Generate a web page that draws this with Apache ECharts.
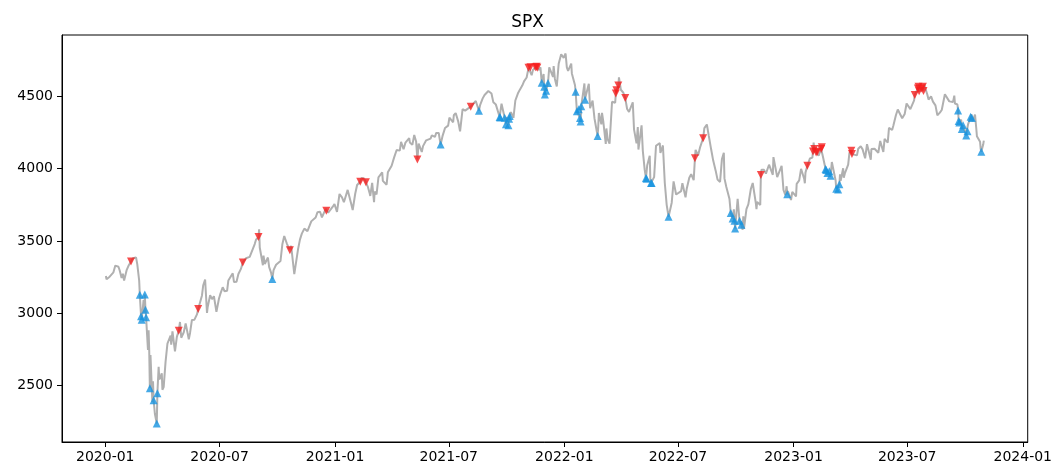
<!DOCTYPE html>
<html>
<head>
<meta charset="utf-8">
<script src="https://cdn.jsdelivr.net/npm/echarts@6/dist/echarts.min.js"></script>
<style>
html,body{margin:0;padding:0;background:#fff;}
#chart{width:1055px;height:467px;}
</style>
</head>
<body>
<div id="chart"></div>
<script>
// ---- data ----
const title = "SPX";
const priceDates = [
"2020-01-02","2020-01-03","2020-01-08","2020-01-10","2020-01-14","2020-01-17","2020-01-22","2020-01-24","2020-01-27","2020-01-29","2020-01-31",
"2020-02-04","2020-02-07","2020-02-11","2020-02-14","2020-02-19","2020-02-21","2020-02-24","2020-02-25","2020-02-26","2020-02-27","2020-02-28",
"2020-03-02","2020-03-03","2020-03-04","2020-03-05","2020-03-06","2020-03-09","2020-03-10","2020-03-11","2020-03-12","2020-03-13","2020-03-16","2020-03-17","2020-03-18","2020-03-19","2020-03-20","2020-03-23","2020-03-24","2020-03-26","2020-03-27","2020-03-31",
"2020-04-01","2020-04-03","2020-04-06","2020-04-09","2020-04-14","2020-04-15","2020-04-17","2020-04-21","2020-04-24","2020-04-27","2020-04-29",
"2020-05-01","2020-05-05","2020-05-08","2020-05-13","2020-05-15","2020-05-18","2020-05-22","2020-05-26","2020-05-28","2020-05-29",
"2020-06-03","2020-06-05","2020-06-08","2020-06-11","2020-06-12","2020-06-16","2020-06-19","2020-06-22","2020-06-26","2020-06-30",
"2020-07-02","2020-07-06","2020-07-09","2020-07-13","2020-07-15","2020-07-17","2020-07-22","2020-07-24","2020-07-28","2020-07-31",
"2020-08-04","2020-08-07","2020-08-12","2020-08-14","2020-08-18","2020-08-21","2020-08-26","2020-08-28",
"2020-09-01","2020-09-02","2020-09-03","2020-09-08","2020-09-09","2020-09-11","2020-09-16","2020-09-18","2020-09-21","2020-09-23","2020-09-25","2020-09-29",
"2020-10-02","2020-10-06","2020-10-09","2020-10-12","2020-10-16","2020-10-20","2020-10-21","2020-10-23","2020-10-28","2020-10-30",
"2020-11-03","2020-11-06","2020-11-09","2020-11-12","2020-11-13","2020-11-18","2020-11-20","2020-11-24","2020-11-27",
"2020-12-01","2020-12-04","2020-12-08","2020-12-11","2020-12-17","2020-12-18","2020-12-21","2020-12-24","2020-12-28","2020-12-31",
"2021-01-04","2021-01-08","2021-01-12","2021-01-15","2021-01-21","2021-01-22","2021-01-27","2021-01-29",
"2021-02-02","2021-02-05","2021-02-10","2021-02-12","2021-02-16","2021-02-19","2021-02-22","2021-02-25","2021-02-26",
"2021-03-01","2021-03-04","2021-03-05","2021-03-08","2021-03-11","2021-03-12","2021-03-17","2021-03-18","2021-03-19","2021-03-24","2021-03-26",
"2021-04-01","2021-04-05","2021-04-09","2021-04-14","2021-04-16","2021-04-20","2021-04-23","2021-04-29","2021-04-30",
"2021-05-04","2021-05-07","2021-05-10","2021-05-12","2021-05-14","2021-05-19","2021-05-21","2021-05-26","2021-05-28",
"2021-06-02","2021-06-04","2021-06-09","2021-06-11","2021-06-15","2021-06-18","2021-06-21","2021-06-25","2021-06-30",
"2021-07-02","2021-07-08","2021-07-09","2021-07-12","2021-07-16","2021-07-19","2021-07-23","2021-07-26","2021-07-27","2021-07-30",
"2021-08-05","2021-08-06","2021-08-13","2021-08-16","2021-08-18","2021-08-20","2021-08-24","2021-08-27",
"2021-09-02","2021-09-07","2021-09-10","2021-09-14","2021-09-17","2021-09-20","2021-09-21","2021-09-23","2021-09-24","2021-09-28","2021-09-30",
"2021-10-01","2021-10-04","2021-10-05","2021-10-06","2021-10-08","2021-10-12","2021-10-15","2021-10-19","2021-10-22","2021-10-26","2021-10-29",
"2021-11-02","2021-11-05","2021-11-08","2021-11-10","2021-11-12","2021-11-16","2021-11-18","2021-11-19","2021-11-22","2021-11-24","2021-11-26","2021-11-29","2021-11-30",
"2021-12-01","2021-12-02","2021-12-03","2021-12-06","2021-12-08","2021-12-10","2021-12-14","2021-12-15","2021-12-17","2021-12-20","2021-12-23","2021-12-27","2021-12-29","2021-12-31",
"2022-01-03","2022-01-05","2022-01-07","2022-01-12","2022-01-13","2022-01-14","2022-01-18","2022-01-19","2022-01-21","2022-01-24","2022-01-26","2022-01-27","2022-01-28",
"2022-02-02","2022-02-03","2022-02-04","2022-02-09","2022-02-11","2022-02-15","2022-02-18","2022-02-23","2022-02-24","2022-02-25",
"2022-03-01","2022-03-02","2022-03-04","2022-03-08","2022-03-09","2022-03-11","2022-03-14","2022-03-18","2022-03-23","2022-03-24","2022-03-25","2022-03-28","2022-03-29",
"2022-04-01","2022-04-05","2022-04-08","2022-04-11","2022-04-14","2022-04-20","2022-04-22","2022-04-26","2022-04-28","2022-04-29",
"2022-05-04","2022-05-06","2022-05-09","2022-05-11","2022-05-12","2022-05-13","2022-05-17","2022-05-18","2022-05-19","2022-05-20","2022-05-24","2022-05-27",
"2022-06-02","2022-06-03","2022-06-07","2022-06-10","2022-06-13","2022-06-16","2022-06-17","2022-06-21","2022-06-24","2022-06-28",
"2022-07-01","2022-07-06","2022-07-08","2022-07-13","2022-07-14","2022-07-15","2022-07-19","2022-07-22","2022-07-26","2022-07-28","2022-07-29",
"2022-08-02","2022-08-05","2022-08-10","2022-08-12","2022-08-16","2022-08-19","2022-08-23","2022-08-26","2022-08-30",
"2022-09-02","2022-09-06","2022-09-09","2022-09-12","2022-09-13","2022-09-16","2022-09-21","2022-09-23","2022-09-26","2022-09-28","2022-09-29","2022-09-30",
"2022-10-04","2022-10-07","2022-10-10","2022-10-12","2022-10-13","2022-10-14","2022-10-18","2022-10-21","2022-10-25","2022-10-28",
"2022-11-02","2022-11-03","2022-11-04","2022-11-09","2022-11-10","2022-11-11","2022-11-15","2022-11-18","2022-11-23","2022-11-25","2022-11-29","2022-11-30",
"2022-12-02","2022-12-06","2022-12-09","2022-12-13","2022-12-16","2022-12-19","2022-12-21","2022-12-22","2022-12-23","2022-12-28","2022-12-30",
"2023-01-05","2023-01-06","2023-01-10","2023-01-13","2023-01-18","2023-01-19","2023-01-20","2023-01-23","2023-01-25","2023-01-27","2023-01-31",
"2023-02-01","2023-02-02","2023-02-03","2023-02-06","2023-02-08","2023-02-10","2023-02-14","2023-02-15","2023-02-17","2023-02-21","2023-02-22","2023-02-24","2023-02-27",
"2023-03-01","2023-03-03","2023-03-06","2023-03-09","2023-03-10","2023-03-13","2023-03-15","2023-03-16","2023-03-17","2023-03-21","2023-03-22","2023-03-24","2023-03-29","2023-03-31",
"2023-04-03","2023-04-04","2023-04-06","2023-04-12","2023-04-14","2023-04-18","2023-04-21","2023-04-25","2023-04-28",
"2023-05-01","2023-05-04","2023-05-05","2023-05-10","2023-05-12","2023-05-16","2023-05-19","2023-05-24","2023-05-26","2023-05-31",
"2023-06-02","2023-06-07","2023-06-09","2023-06-13","2023-06-16","2023-06-21","2023-06-23","2023-06-27","2023-06-30",
"2023-07-06","2023-07-07","2023-07-12","2023-07-13","2023-07-14","2023-07-18","2023-07-19","2023-07-20","2023-07-21","2023-07-24","2023-07-25","2023-07-26","2023-07-27","2023-07-28","2023-07-31",
"2023-08-02","2023-08-04","2023-08-08","2023-08-11","2023-08-15","2023-08-18","2023-08-22","2023-08-24","2023-08-25","2023-08-30",
"2023-09-01","2023-09-06","2023-09-08","2023-09-12","2023-09-14","2023-09-15","2023-09-19","2023-09-20","2023-09-21","2023-09-22","2023-09-25","2023-09-26","2023-09-28","2023-09-29",
"2023-10-03","2023-10-04","2023-10-05","2023-10-06","2023-10-10","2023-10-11","2023-10-12","2023-10-13","2023-10-17","2023-10-19","2023-10-20","2023-10-23","2023-10-25","2023-10-26","2023-10-27","2023-10-30","2023-10-31"
];
const priceValues = [
3257.85,3234.85,3253.05,3265.35,3283.15,3329.62,3321.75,3295.47,3243.63,3273.40,3225.52,
3297.59,3327.71,3357.75,3380.16,3386.15,3337.75,3225.89,3128.21,3116.39,2978.76,2954.22,
3090.23,3003.37,3130.12,3023.94,2972.37,2746.56,2882.23,2741.38,2480.64,2711.02,2386.13,2529.19,2398.10,2409.39,2304.92,2237.40,2447.33,2630.07,2541.47,2584.59,
2470.50,2488.65,2663.68,2789.82,2846.06,2783.36,2874.56,2736.56,2836.74,2878.48,2939.51,
2830.71,2868.44,2929.80,2820.00,2863.70,2953.91,2955.45,2991.77,3029.73,3044.31,
3122.87,3193.93,3232.39,3002.10,3041.31,3124.74,3097.74,3117.86,3009.05,3100.29,
3130.01,3179.72,3152.05,3155.22,3226.56,3224.73,3276.02,3215.63,3218.44,3271.12,
3306.51,3351.28,3380.35,3372.85,3389.78,3397.16,3478.73,3508.01,
3526.65,3580.84,3455.06,3331.84,3398.96,3340.97,3385.49,3319.47,3281.06,3236.92,3298.46,3335.47,
3348.42,3360.95,3477.13,3534.22,3483.81,3443.12,3435.56,3465.39,3271.03,3269.96,
3443.44,3509.44,3550.50,3537.01,3585.15,3567.79,3557.54,3635.41,3638.35,
3662.45,3699.12,3702.25,3663.46,3722.48,3709.41,3694.92,3703.06,3735.36,3756.07,
3700.65,3824.68,3801.19,3768.25,3853.07,3841.47,3750.77,3714.24,
3826.31,3886.83,3909.88,3934.83,3932.59,3906.71,3876.50,3829.34,3811.15,
3901.82,3768.47,3841.94,3821.35,3939.34,3943.34,3974.12,3915.46,3913.10,3889.14,3974.54,
4019.87,4077.91,4128.80,4124.66,4185.47,4134.94,4180.17,4211.47,4181.17,
4164.66,4232.60,4188.43,4063.04,4173.85,4115.68,4155.86,4195.99,4204.11,
4208.12,4229.89,4219.55,4247.44,4246.59,4166.45,4224.79,4280.70,4297.50,
4352.34,4320.82,4369.55,4384.63,4327.16,4258.49,4411.79,4422.30,4401.46,4395.26,
4429.10,4436.52,4468.00,4479.71,4400.27,4441.67,4486.23,4509.37,
4536.95,4520.03,4458.58,4443.05,4432.99,4357.73,4354.19,4448.98,4455.48,4352.63,4307.54,
4357.04,4300.46,4345.72,4363.55,4391.34,4350.65,4471.37,4519.63,4544.90,4574.79,4605.38,
4630.65,4697.53,4701.70,4646.71,4682.85,4700.90,4704.54,4697.96,4682.94,4701.46,4594.62,4655.27,4567.00,
4513.04,4577.10,4538.43,4591.67,4701.21,4712.02,4634.09,4709.85,4620.64,4568.02,4725.79,4791.19,4793.06,4766.18,
4796.56,4700.58,4677.03,4726.35,4659.03,4662.85,4577.11,4532.76,4397.94,4410.13,4349.93,4326.51,4431.85,
4589.38,4477.44,4500.53,4587.18,4418.64,4471.07,4348.87,4225.50,4288.70,4384.65,
4306.26,4386.54,4328.87,4170.70,4277.88,4204.31,4173.11,4463.12,4456.24,4520.16,4543.06,4575.52,4631.60,
4545.86,4525.12,4488.28,4412.53,4392.59,4459.45,4271.78,4175.20,4287.50,4131.93,
4300.17,4123.34,3991.24,3935.18,3930.08,4023.89,4088.85,3923.68,3900.79,3901.36,3941.48,4158.24,
4176.82,4108.54,4160.68,3900.86,3749.63,3666.77,3674.84,3764.79,3911.74,3821.55,
3825.33,3845.08,3899.38,3801.78,3790.38,3863.16,3936.69,3961.63,3921.05,4072.43,4130.29,
4091.19,4145.19,4210.24,4280.15,4305.20,4228.48,4128.73,4057.66,3986.16,
3924.26,3908.19,4067.36,4110.41,3932.69,3873.33,3789.93,3693.23,3655.04,3719.04,3640.47,3585.62,
3790.93,3639.66,3612.39,3577.03,3669.91,3583.07,3719.98,3752.75,3859.11,3901.06,
3759.69,3719.89,3770.55,3748.57,3956.37,3992.93,3991.73,3965.34,4027.26,4026.12,3957.63,4080.11,
4071.70,3941.26,3934.38,4019.65,3852.36,3817.66,3878.44,3822.39,3844.82,3783.22,3839.50,
3808.10,3895.08,3919.25,3999.09,3928.86,3898.85,3972.61,4019.81,4016.22,4070.56,4076.60,
4119.21,4179.76,4136.48,4111.08,4117.86,4090.46,4136.13,4147.60,4079.09,3997.34,3991.05,3970.04,3982.24,
3951.39,4045.64,4048.42,3918.32,3861.59,3855.76,3891.93,3960.28,3916.64,4002.87,3936.97,3970.99,4027.81,4109.31,
4124.51,4100.60,4105.02,4091.95,4137.64,4154.87,4133.52,4071.63,4169.48,
4167.87,4061.22,4136.25,4137.64,4124.08,4109.90,4191.98,4115.24,4205.45,4179.83,
4282.37,4267.52,4298.86,4369.01,4409.59,4365.69,4348.33,4378.41,4450.38,
4411.59,4398.95,4472.16,4510.04,4505.42,4554.98,4565.72,4534.87,4536.34,4554.64,4567.46,4566.75,4537.41,4582.23,4588.96,
4513.39,4478.03,4499.38,4464.05,4437.86,4369.71,4387.55,4376.31,4405.71,4514.87,
4515.77,4465.48,4457.49,4461.90,4505.10,4450.32,4443.95,4402.20,4330.00,4320.06,4337.44,4273.53,4299.70,4288.05,
4229.45,4263.75,4258.19,4308.50,4358.24,4376.95,4349.61,4327.78,4373.20,4278.00,4224.16,4217.04,4186.77,4137.23,4117.37,4166.82,4193.80
];
const sellDates = ["2020-02-11","2020-04-27","2020-05-28","2020-08-07","2020-09-01","2020-10-21","2020-12-18","2021-02-10","2021-02-19","2021-05-12","2021-08-05","2021-11-05","2021-11-08","2021-11-16","2021-11-18","2021-11-19","2022-03-24","2022-03-25","2022-03-28","2022-04-08","2022-07-28","2022-08-10","2022-11-10","2023-01-23","2023-02-01","2023-02-03","2023-02-06","2023-02-08","2023-02-14","2023-02-15","2023-04-03","2023-04-04","2023-07-13","2023-07-18","2023-07-19","2023-07-20","2023-07-24","2023-07-26","2023-07-27"];
const sellValues = [3357.75,2878.48,3029.73,3351.28,3526.65,3435.56,3709.41,3909.88,3906.71,4063.04,4429.10,4697.53,4701.70,4700.90,4704.54,4697.96,4520.16,4543.06,4575.52,4488.28,4072.43,4210.24,3956.37,4019.81,4119.21,4136.48,4111.08,4117.86,4136.13,4147.60,4124.51,4100.60,4510.04,4554.98,4565.72,4534.87,4554.64,4566.75,4537.41];
const buyDates = ["2020-02-25","2020-02-27","2020-02-28","2020-03-04","2020-03-05","2020-03-06","2020-03-12","2020-03-18","2020-03-23","2020-03-24","2020-09-23","2021-06-18","2021-08-18","2021-09-20","2021-09-21","2021-09-28","2021-09-30","2021-10-04","2021-10-05","2021-10-06","2021-11-26","2021-11-30","2021-12-01","2021-12-03","2021-12-06","2022-01-19","2022-01-21","2022-01-24","2022-01-26","2022-01-27","2022-01-28","2022-02-03","2022-02-23","2022-05-11","2022-05-12","2022-05-19","2022-05-20","2022-06-16","2022-09-23","2022-09-26","2022-09-29","2022-09-30","2022-10-07","2022-10-10","2022-12-22","2023-02-21","2023-02-22","2023-02-24","2023-02-27","2023-03-01","2023-03-10","2023-03-13","2023-03-15","2023-09-20","2023-09-21","2023-09-22","2023-09-26","2023-09-28","2023-10-03","2023-10-05","2023-10-10","2023-10-12","2023-10-27"];
const buyValues = [3128.21,2978.76,2954.22,3130.12,3023.94,2972.37,2480.64,2398.10,2237.40,2447.33,3236.92,4166.45,4400.27,4357.73,4354.19,4352.63,4307.54,4300.46,4345.72,4363.55,4594.62,4567.00,4513.04,4538.43,4591.67,4532.76,4397.94,4410.13,4349.93,4326.51,4431.85,4477.44,4225.50,3935.18,3930.08,3900.79,3901.36,3666.77,3693.23,3655.04,3640.47,3585.62,3639.66,3612.39,3822.39,3997.34,3991.05,3970.04,3982.24,3951.39,3861.59,3855.76,3891.93,4402.20,4330.00,4320.06,4273.53,4299.70,4229.45,4258.19,4358.24,4349.61,4117.37];
const xTickLabels = ["2020-01","2020-07","2021-01","2021-07","2022-01","2022-07","2023-01","2023-07","2024-01"];
const yTickLabels = [2500,3000,3500,4000,4500];

// ---- build ----
function ts(s){ const p = s.split('-').map(Number); return Date.UTC(p[0], p[1]-1, p[2] || 1); }
function pair(ds, vs){ return ds.map((d,i)=>[ts(d), vs[i]]); }
const xTicks = xTickLabels.map(ts);
const labelOf = {};
xTickLabels.forEach((l,i)=>{ labelOf[xTicks[i]] = l; });
const dataStart = ts(priceDates[0]), dataEnd = ts(priceDates[priceDates.length-1]);
const xPad = (dataEnd - dataStart) * 0.05;
const allVals = priceValues.concat(sellValues, buyValues);
const vMin = Math.min.apply(null, allVals), vMax = Math.max.apply(null, allVals);
const yPad = (vMax - vMin) * 0.05;

const chart = echarts.init(document.getElementById('chart'), null, {renderer:'canvas'});
const font = 'DejaVu Sans';
chart.setOption({
  animation: false,
  backgroundColor: '#ffffff',
  title: {
    text: title, left: 'center', top: 9,
    textStyle: {fontFamily: font, fontSize: 17, fontWeight: 'normal', color: '#000'}
  },
  grid: {left: 62, right: 27, top: 35, bottom: 25, show: true, borderColor: '#000', borderWidth: 1, backgroundColor: 'transparent'},
  xAxis: {
    type: 'value',
    min: dataStart - xPad, max: dataEnd + xPad,
    axisLine: {show: true, onZero: false, lineStyle: {color: '#000', width: 1}},
    axisTick: {show: true, length: 5, lineStyle: {color: '#000'}, customValues: xTicks},
    axisLabel: {customValues: xTicks, formatter: v => labelOf[v] || '', fontFamily: font, fontSize: 14, color: '#000', margin: 8, hideOverlap: false},
    splitLine: {show: false}
  },
  yAxis: {
    type: 'value',
    min: vMin - yPad, max: vMax + yPad,
    axisLine: {show: true, onZero: false, lineStyle: {color: '#000', width: 1}},
    axisTick: {show: true, length: 5, lineStyle: {color: '#000'}, customValues: yTickLabels},
    axisLabel: {customValues: yTickLabels, formatter: v => String(Math.round(v)), fontFamily: font, fontSize: 14, color: '#000', margin: 9},
    splitLine: {show: false}
  },
  series: [
    {type: 'line', data: pair(priceDates, priceValues), showSymbol: false, symbol: 'none',
     lineStyle: {color: '#b0b0b0', width: 2}, z: 1},
    {type: 'scatter', data: pair(sellDates, sellValues), symbol: 'triangle', symbolRotate: 180, symbolSize: 8,
     itemStyle: {color: '#f51e1e'}, z: 3},
    {type: 'scatter', data: pair(buyDates, buyValues), symbol: 'triangle', symbolSize: 8,
     itemStyle: {color: '#1694e0'}, z: 3}
  ]
});
</script>
</body>
</html>
